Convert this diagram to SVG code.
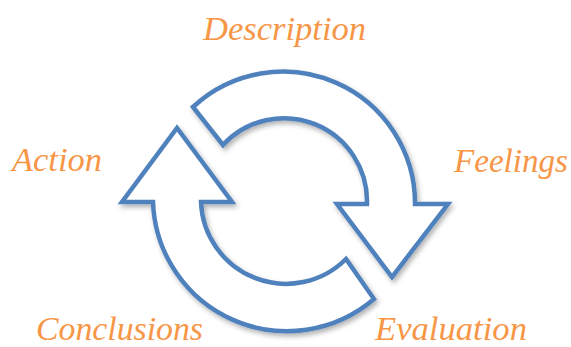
<svg xmlns="http://www.w3.org/2000/svg" width="571" height="347" viewBox="0 0 571 347">
<style>
.lbl{font-family:"Liberation Serif","Times New Roman",serif;font-style:italic;font-size:34px;fill:#f79646}
.arr{fill:#ffffff;stroke:#4f81bd;stroke-width:4.5;stroke-linejoin:miter;filter:url(#sh)}
</style>
<defs>
<filter id="sh" x="-20%" y="-20%" width="140%" height="140%">
<feDropShadow dx="2" dy="3" stdDeviation="2.5" flood-color="#000" flood-opacity="0.3"/>
</filter>
</defs>
<g id="connectors">
<path id="arrow-top" class="arr" d="M193,107 A132,132 0 0 1 415,204 L448,204 L392,277 L337,204 L367,204 A83,83 0 0 0 223,145 Z"/>
<path id="arrow-bottom" class="arr" d="M374,299 A134,134 0 0 1 153,202 L122,202 L177,128 L232,202 L201,202 A85,85 0 0 0 346,259 Z"/>
</g>
<g id="description"><text class="lbl" x="203" y="39.5" textLength="163" lengthAdjust="spacingAndGlyphs">Description</text></g>
<g id="feelings"><text class="lbl" x="454" y="172" textLength="114" lengthAdjust="spacingAndGlyphs">Feelings</text></g>
<g id="action"><text class="lbl" x="12" y="171" textLength="90" lengthAdjust="spacingAndGlyphs">Action</text></g>
<g id="conclusions"><text class="lbl" x="36" y="339.5" textLength="167" lengthAdjust="spacingAndGlyphs">Conclusions</text></g>
<g id="evaluation"><text class="lbl" x="375" y="339.5" textLength="152" lengthAdjust="spacingAndGlyphs">Evaluation</text></g>
</svg>
